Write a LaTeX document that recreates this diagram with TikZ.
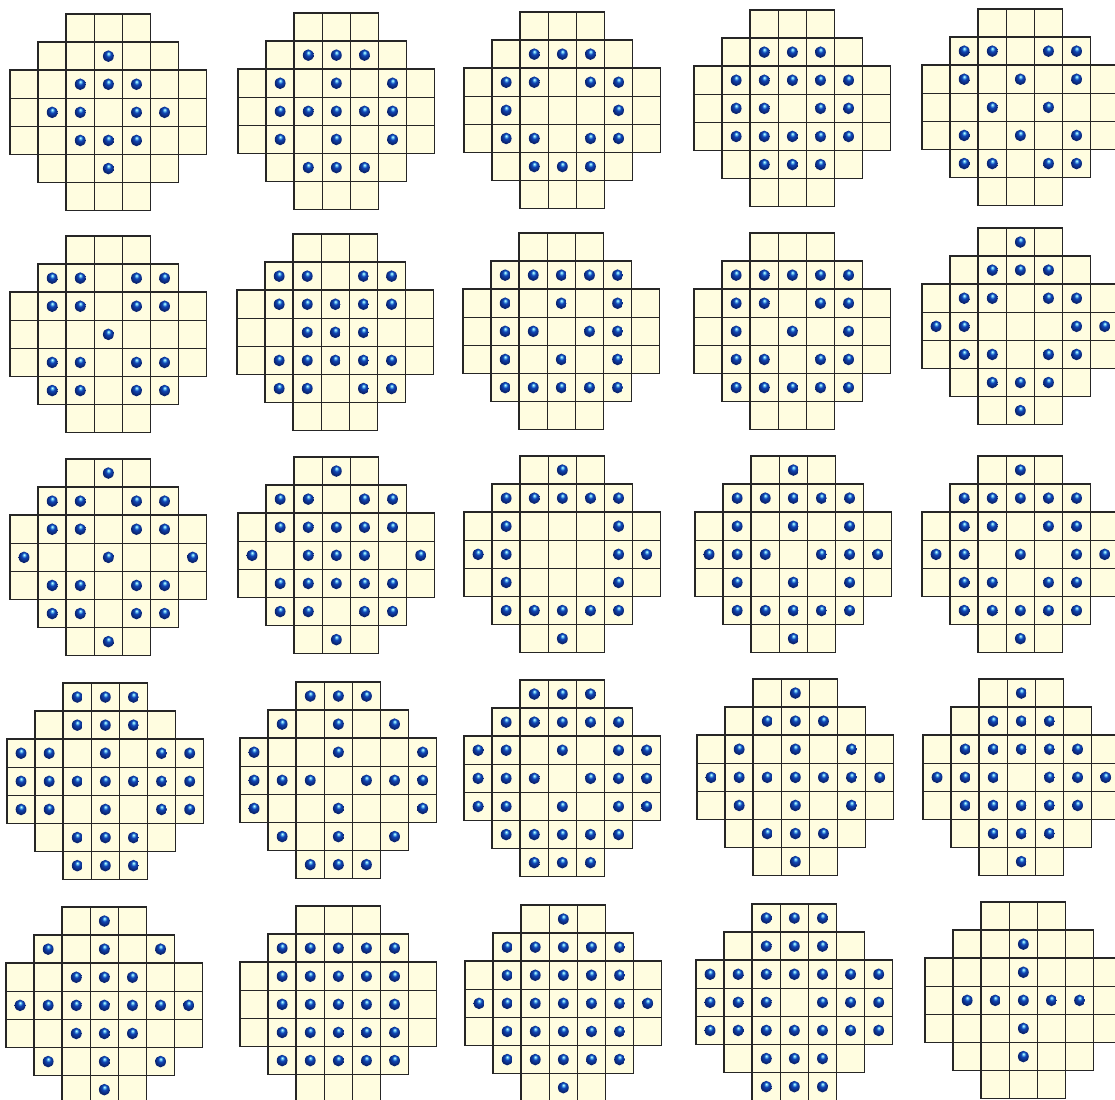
\documentclass[tikz,border=0pt]{standalone}
\usetikzlibrary{calc}
\definecolor{sbcell}{HTML}{FFFDE0}
\definecolor{sbline}{HTML}{262626}
\definecolor{sbpeg}{HTML}{1248B8}
\definecolor{sbpegdark}{HTML}{0A2470}
\definecolor{sbshine}{HTML}{7FE4FF}
\pgfdeclareradialshading{pegball}{\pgfpoint{0bp}{12bp}}{%
  color(0bp)=(white); color(3bp)=(sbshine); color(11bp)=(sbpeg);
  color(24bp)=(sbpegdark); color(50bp)=(sbpegdark)}
\tikzset{
  hole/.style={fill=sbcell,draw=sbline,line width=1.1pt},
  peg/.style={shading=pegball},
}
% one 37-hole board: left, top, pegs as row/{columns}
\newcommand\solboard[3]{%
  \begin{scope}[shift={(#1,#2)}]
    \foreach \r/\a/\b in {0/2/4,1/1/5,2/0/6,3/0/6,4/0/6,5/1/5,6/2/4}
      \foreach \c in {\a,...,\b}
        \draw[hole] (\c*28.1,\r*28.1) rectangle ++(28.1,28.1);
    \foreach \r/\cols in {#3}
      \foreach \c in \cols
        \shade[peg] ({(\c+0.5)*28.1},{(\r+0.5)*28.1}) circle[x radius=5.4,y radius=5.8];
  \end{scope}}

\begin{document}
\begin{tikzpicture}[x=0.25mm,y=-0.25mm]
  \useasboundingbox (0,0) rectangle (1115,1100);
  % first row
  \solboard{10}{14}{1/{3},2/{2,3,4},3/{1,2,4,5},4/{2,3,4},5/{3}}
  \solboard{238}{13}{1/{2,3,4},2/{1,3,5},3/{1,...,5},4/{1,3,5},5/{2,3,4}}
  \solboard{464}{12}{1/{2,3,4},2/{1,2,4,5},3/{1,5},4/{1,2,4,5},5/{2,3,4}}
  \solboard{694}{10}{1/{2,3,4},2/{1,...,5},3/{1,2,4,5},4/{1,...,5},5/{2,3,4}}
  \solboard{922}{9}{1/{1,2,4,5},2/{1,3,5},3/{2,4},4/{1,3,5},5/{1,2,4,5}}
  % second row
  \solboard{10}{236}{1/{1,2,4,5},2/{1,2,4,5},3/{3},4/{1,2,4,5},5/{1,2,4,5}}
  \solboard{237}{234}{1/{1,2,4,5},2/{1,...,5},3/{2,3,4},4/{1,...,5},5/{1,2,4,5}}
  \solboard{463}{233}{1/{1,...,5},2/{1,3,5},3/{1,2,4,5},4/{1,3,5},5/{1,...,5}}
  \solboard{694}{233}{1/{1,...,5},2/{1,2,4,5},3/{1,3,5},4/{1,2,4,5},5/{1,...,5}}
  \solboard{922}{228}{0/{3},1/{2,3,4},2/{1,2,4,5},3/{0,1,5,6},4/{1,2,4,5},5/{2,3,4},6/{3}}
  % third row
  \solboard{10}{459}{0/{3},1/{1,2,4,5},2/{1,2,4,5},3/{0,3,6},4/{1,2,4,5},5/{1,2,4,5},6/{3}}
  \solboard{238}{457}{0/{3},1/{1,2,4,5},2/{1,...,5},3/{0,2,3,4,6},4/{1,...,5},5/{1,2,4,5},6/{3}}
  \solboard{464}{456}{0/{3},1/{1,...,5},2/{1,5},3/{0,1,5,6},4/{1,5},5/{1,...,5},6/{3}}
  \solboard{695}{456}{0/{3},1/{1,...,5},2/{1,3,5},3/{0,1,2,4,5,6},4/{1,3,5},5/{1,...,5},6/{3}}
  \solboard{922}{456}{0/{3},1/{1,...,5},2/{1,2,4,5},3/{0,1,3,5,6},4/{1,2,4,5},5/{1,...,5},6/{3}}
  % fourth row
  \solboard{7}{683}{0/{2,3,4},1/{2,3,4},2/{0,1,3,5,6},3/{0,...,6},4/{0,1,3,5,6},5/{2,3,4},6/{2,3,4}}
  \solboard{240}{682}{0/{2,3,4},1/{1,3,5},2/{0,3,6},3/{0,1,2,4,5,6},4/{0,3,6},5/{1,3,5},6/{2,3,4}}
  \solboard{464}{680}{0/{2,3,4},1/{1,...,5},2/{0,1,3,5,6},3/{0,1,2,4,5,6},4/{0,1,3,5,6},5/{1,...,5},6/{2,3,4}}
  \solboard{697}{679}{0/{3},1/{2,3,4},2/{1,3,5},3/{0,...,6},4/{1,3,5},5/{2,3,4},6/{3}}
  \solboard{923}{679}{0/{3},1/{2,3,4},2/{1,...,5},3/{0,1,2,4,5,6},4/{1,...,5},5/{2,3,4},6/{3}}
  % fifth row
  \solboard{6}{907}{0/{3},1/{1,3,5},2/{2,3,4},3/{0,...,6},4/{2,3,4},5/{1,3,5},6/{3}}
  \solboard{240}{906}{1/{1,...,5},2/{1,...,5},3/{1,...,5},4/{1,...,5},5/{1,...,5}}
  \solboard{465}{905}{0/{3},1/{1,...,5},2/{1,...,5},3/{0,...,6},4/{1,...,5},5/{1,...,5},6/{3}}
  \solboard{696}{904}{0/{2,3,4},1/{2,3,4},2/{0,...,6},3/{0,1,2,4,5,6},4/{0,...,6},5/{2,3,4},6/{2,3,4}}
  \solboard{925}{902}{1/{3},2/{3},3/{1,...,5},4/{3},5/{3}}
\end{tikzpicture}
\end{document}
